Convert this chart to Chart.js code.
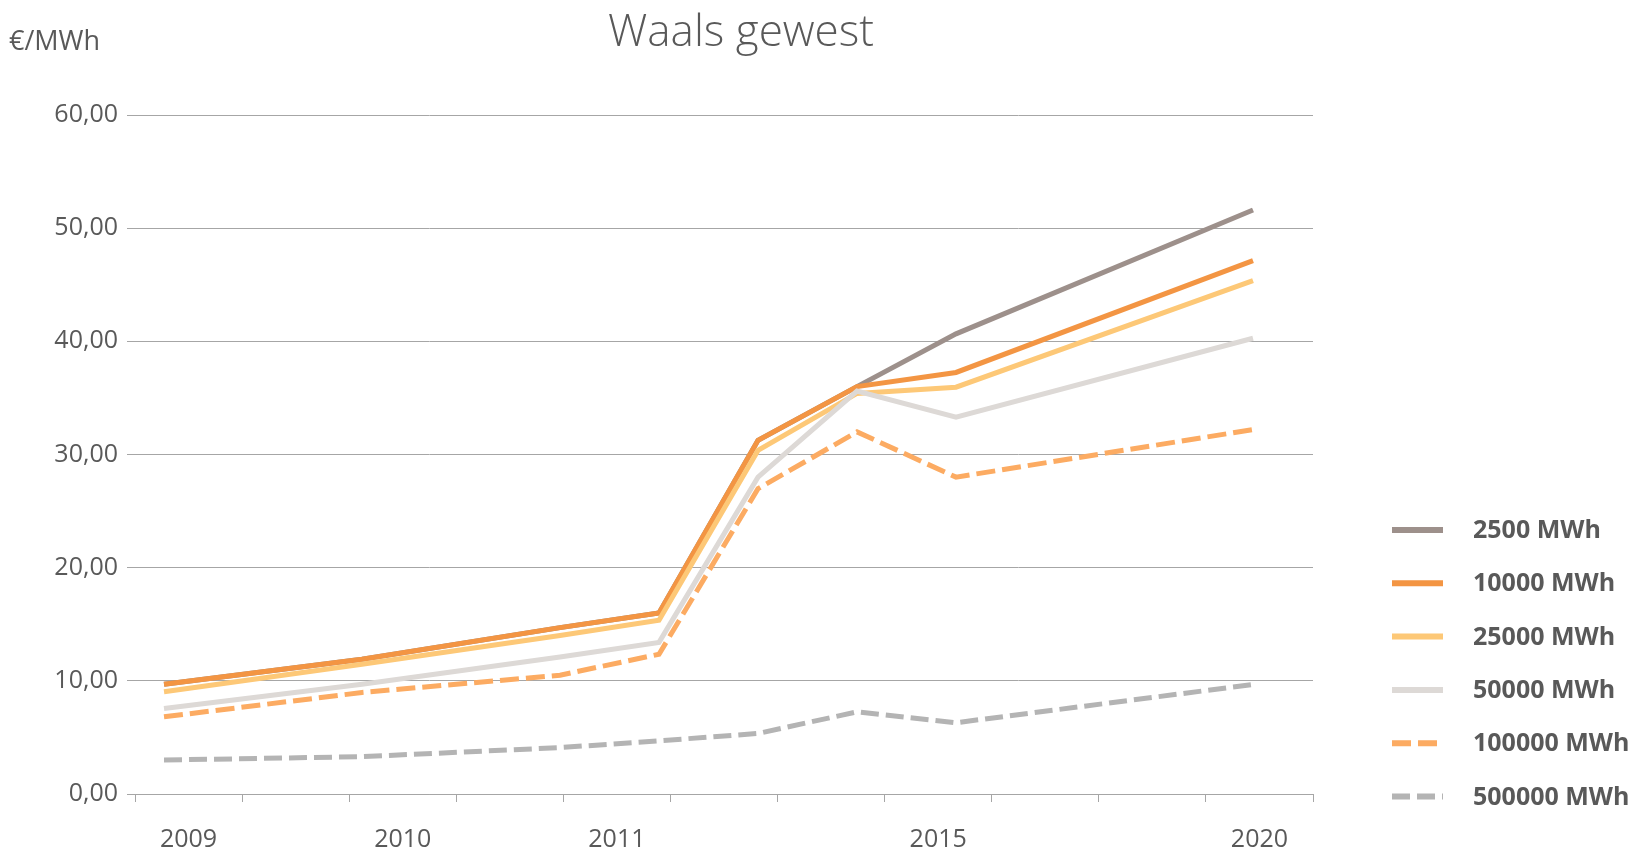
<!DOCTYPE html>
<html lang="nl">
<head>
    <meta charset="UTF-8">
    <title>Waals gewest</title>
    <script src="https://cdn.jsdelivr.net/npm/chart.js"></script>
    <style>
        body { margin: 0; background: #fff; }
        #wrap { width: 1642px; height: 852px; }
    </style>
</head>
<body>
    <div id="wrap"><canvas id="wallonieChart"></canvas></div>

    <script>
        // x axis labels (only some slots are labelled, like the original)
        const yearLabels = ['2009', '', '2010', '', '2011', '', '', '2015', '', '', '2020'];
        // slot of each measured point on the hidden data axis
        const pointSlots = [0, 2, 4, 5, 6, 7, 8, 11];

        const mwh2500   = [9.7, 11.9, 14.7, 16.0, 31.25, 36.0, 40.66, 51.6];
        const mwh10000  = [9.7, 11.9, 14.7, 16.0, 31.25, 36.0, 37.25, 47.13];
        const mwh25000  = [9.03, 11.47, 14.0, 15.35, 30.36, 35.4, 35.95, 45.37];
        const mwh50000  = [7.55, 9.7, 12.1, 13.4, 28.0, 35.6, 33.3, 40.27];
        const mwh100000 = [6.82, 8.97, 10.5, 12.35, 26.98, 32.0, 28.0, 32.2];
        const mwh500000 = [3.0, 3.3, 4.1, 4.7, 5.35, 7.26, 6.3, 9.68];

        const seriesNames = ['2500 MWh', '10000 MWh', '25000 MWh', '50000 MWh', '100000 MWh', '500000 MWh'];

        const textColor = '#595959';
        const gridColor = '#a6a6a6';

        const toPoints = (vals) => vals.map((v, i) => ({ x: pointSlots[i], y: v }));

        const makeSet = (label, vals, color, dash, order) => ({
            label: label,
            data: toPoints(vals),
            borderColor: color,
            backgroundColor: color,
            borderWidth: 5,
            borderDash: dash,
            pointRadius: 0,
            tension: 0,
            fill: false,
            order: order
        });

        // custom title, unit and legend placed like the source chart
        const decorations = {
            id: 'decorations',
            afterDraw(chart) {
                const ctx = chart.ctx;
                ctx.save();
                ctx.fillStyle = textColor;
                ctx.textBaseline = 'alphabetic';
                ctx.textAlign = 'center';
                ctx.font = '300 44px "Open Sans"';
                ctx.fillText('Waals gewest', 741, 46);
                ctx.textAlign = 'left';
                ctx.font = '27px "Open Sans"';
                ctx.fillText('€/MWh', 9, 50);

                ctx.textBaseline = 'middle';
                ctx.font = 'bold 25px "Open Sans"';
                chart.data.datasets.forEach((ds, i) => {
                    const y = 530 + i * 53.3;
                    ctx.strokeStyle = ds.borderColor;
                    ctx.lineWidth = 6;
                    ctx.setLineDash(ds.borderDash);
                    ctx.beginPath();
                    ctx.moveTo(1392, y);
                    ctx.lineTo(1443, y);
                    ctx.stroke();
                    ctx.fillText(ds.label, 1473, y + 1);
                });
                ctx.restore();
            }
        };

        const ctx = document.getElementById('wallonieChart').getContext('2d');
        const wallonieChart = new Chart(ctx, {
            type: 'line',
            data: {
                datasets: [
                    makeSet(seriesNames[0], mwh2500, '#9d908b', [], 6),
                    makeSet(seriesNames[1], mwh10000, '#f39543', [], 5),
                    makeSet(seriesNames[2], mwh25000, '#fdc877', [], 4),
                    makeSet(seriesNames[3], mwh50000, '#ddd9d6', [], 3),
                    makeSet(seriesNames[4], mwh100000, '#fcab62', [19, 7], 2),
                    makeSet(seriesNames[5], mwh500000, '#b4b4b4', [18, 7], 1)
                ]
            },
            options: {
                responsive: true,
                maintainAspectRatio: false,
                animation: false,
                layout: { padding: { top: 115, right: 329, bottom: 0, left: 0 } },
                plugins: {
                    legend: { display: false },
                    title: { display: false },
                    tooltip: { enabled: false }
                },
                scales: {
                    x: {
                        type: 'linear',
                        display: false,
                        min: -0.293,
                        max: 11.606
                    },
                    x2: {
                        type: 'category',
                        position: 'bottom',
                        labels: yearLabels,
                        offset: true,
                        afterFit: (scale) => { scale.height = 58; },
                        grid: {
                            offset: true,
                            drawOnChartArea: false,
                            drawTicks: true,
                            tickLength: 8,
                            color: gridColor
                        },
                        border: { display: true, color: gridColor, width: 1 },
                        ticks: {
                            autoSkip: false,
                            maxRotation: 0,
                            padding: 25,
                            color: textColor,
                            font: { family: 'Open Sans', size: 25, lineHeight: 1 }
                        }
                    },
                    y: {
                        min: 0,
                        max: 60,
                        afterFit: (scale) => { scale.width = 135; },
                        grid: {
                            color: gridColor,
                            lineWidth: 1,
                            drawTicks: true,
                            tickLength: 8
                        },
                        border: { display: false },
                        ticks: {
                            stepSize: 10,
                            padding: 9,
                            color: textColor,
                            font: { family: 'Open Sans', size: 25 },
                            callback: (v) => v.toFixed(2).replace('.', ',')
                        }
                    }
                }
            },
            plugins: [decorations]
        });
    </script>
</body>
</html>
